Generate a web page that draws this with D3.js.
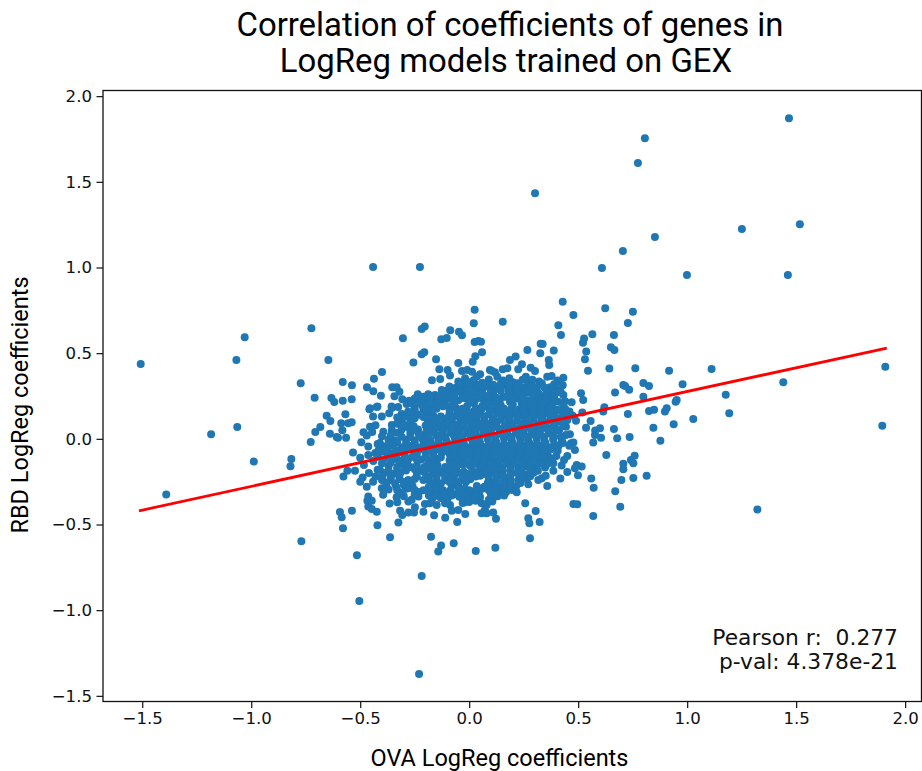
<!DOCTYPE html>
<html>
<head>
<meta charset="utf-8">
<script src="https://cdn.jsdelivr.net/npm/d3@7"></script>
<style>
  html, body { margin: 0; padding: 0; background: #fff; }
  svg { display: block; }
</style>
</head>
<body>
<svg id="chart"></svg>
<script>
// values: [OVA coefficient, RBD coefficient]
const outlierGenes = [
  [1.467,1.871],[0.806,1.755],[0.774,1.61],[0.302,1.434],[1.517,1.252],[1.251,1.224],[0.852,1.178],[0.705,1.096],
  [0.609,0.997],[0.999,0.956],[1.462,0.956],[-0.441,1.003],[-0.226,1.003],[-1.507,0.437],[-1.03,0.593],[-1.068,0.46],
  [-0.724,0.645],[-0.646,0.46],[-0.773,0.324],[-1.064,0.069],[-1.184,0.027],[-0.988,-0.133],[-0.816,-0.117],[-0.82,-0.16],
  [-1.39,-0.325],[-0.77,-0.597],[-0.515,-0.679],[-0.504,-0.946],[-0.218,-0.8],[-0.23,-1.372],[1.322,-0.413],[1.909,0.421],
  [1.895,0.077],[1.441,0.33],[1.112,0.408],[0.917,0.398],[0.979,0.319],[1.177,0.258],[1.193,0.149],[1.028,0.116]
];

const leftGenes = [
  [-0.58,0.332],[-0.538,0.313],[-0.709,0.24],[-0.632,0.239],[-0.619,0.215],[-0.58,0.223],[-0.539,0.231],[-0.654,0.135],
  [-0.637,0.104],[-0.568,0.143],[-0.587,0.091],[-0.555,0.091],[-0.539,0.097],[-0.683,0.069],[-0.706,0.04],[-0.639,0.03],
  [-0.608,0.011],[-0.602,0.007],[-0.582,0.05],[-0.565,0.007],[-0.727,-0.018],[-0.533,-0.08],[-0.577,-0.22],[-0.524,-0.186],
  [-0.559,-0.186],[-0.489,-0.226],[-0.483,-0.152],[-0.593,-0.427],[-0.585,-0.457],[-0.538,-0.419],[-0.579,-0.522],[-0.424,-0.425],
  [-0.463,-0.395],[-0.447,-0.409],[-0.467,-0.362],[-0.447,-0.362],[-0.463,-0.337],[-0.421,-0.504],[-0.363,-0.574],[-0.325,-0.489],
  [-0.365,-0.378],[-0.333,-0.341],[-0.401,-0.288],[-0.395,-0.327],[-0.441,-0.25],[-0.458,0.173],[-0.424,0.186],[-0.401,0.13],
  [-0.441,0.13],[-0.367,0.15],[-0.355,0.18],[-0.326,0.186],[-0.485,0.038],[-0.455,0.071],[-0.463,-0.045],[-0.463,-0.094],
  [-0.431,-0.082],[-0.401,-0.075],[-0.394,0.042],[-0.355,0.081],[-0.469,0.301],[-0.44,0.278],[-0.405,0.252],[-0.353,0.301],
  [-0.333,0.301],[-0.32,0.275],[-0.343,0.248],[-0.307,0.231],[-0.276,0.223],[-0.287,0.204],[-0.455,0.178],[-0.421,0.188],
  [-0.356,0.188],[-0.4,0.39],[-0.437,0.351],[-0.495,-0.02],[-0.47,0.02],[-0.5,-0.11],[-0.44,-0.13],[-0.42,-0.18],
  [-0.46,-0.2],[-0.43,-0.22],[-0.4,-0.24],[-0.47,-0.28],[-0.5,-0.25],[-0.445,0.04],[-0.43,0.08],[-0.42,-0.03]
];

const topGenes = [
  [0.025,0.754],[0.021,0.674],[-0.204,0.655],[-0.218,0.641],[-0.087,0.634],[-0.047,0.625],[-0.033,0.604],[-0.304,0.587],
  [-0.128,0.581],[-0.103,0.589],[0.025,0.565],[0.042,0.571],[0.054,0.567],[0.059,0.505],[0.028,0.482],[0.016,0.45],
  [-0.206,0.505],[-0.218,0.493],[-0.152,0.464],[-0.256,0.445],[-0.05,0.443],[-0.137,0.406],[-0.099,0.402],[-0.088,0.369],
  [-0.171,0.342],[-0.133,0.349],[-0.033,0.396],[-0.009,0.402],[0.013,0.392],[0.034,0.363],[0.05,0.377],[0.095,0.402],
  [0.118,0.389],[-0.019,0.354],[-0.05,0.334],[-0.091,0.305],[-0.126,0.285],[-0.236,0.26],[-0.23,0.227],[-0.188,0.26],
  [-0.195,0.204],[-0.157,0.256],[-0.065,0.266],[0.429,0.8],[0.154,0.684],[0.478,0.723],[0.409,0.663],[0.421,0.606],
  [0.624,0.762],[0.751,0.742],[0.728,0.676],[0.565,0.61],[0.664,0.606],[0.527,0.585],[0.522,0.561],[0.65,0.534],
  [0.666,0.519],[0.537,0.509],[0.531,0.464],[0.545,0.398],[0.643,0.41],[0.762,0.412],[0.328,0.555],[0.337,0.554],
  [0.326,0.499],[0.267,0.519],[0.388,0.515],[0.213,0.48],[0.187,0.46],[0.365,0.46],[0.367,0.431],[0.242,0.435],
  [0.225,0.406],[0.282,0.415],[0.302,0.396],[0.154,0.406],[0.175,0.412],[0.103,0.398],[0.129,0.363],[0.184,0.354],
  [0.164,0.314],[0.26,0.363],[0.271,0.324],[0.287,0.31],[0.222,0.324],[0.32,0.334],[0.333,0.324],[0.358,0.363],
  [0.378,0.367],[0.432,0.357],[0.409,0.334],[0.429,0.313],[0.371,0.301],[0.386,0.301],[0.294,0.258],[0.348,0.252],
  [0.378,0.26],[0.432,0.256],[0.513,0.266],[0.523,0.227],[0.47,0.214],[0.248,0.266],[0.202,0.266],[0.187,0.217],
  [0.156,0.246],[0.241,0.208],[0.31,0.204],[0.356,0.208],[0.409,0.217]
];

const rightGenes = [
  [0.669,0.27],[0.707,0.314],[0.715,0.309],[0.734,0.287],[0.799,0.326],[0.825,0.309],[0.799,0.246],[0.62,0.184],
  [0.519,0.153],[0.615,0.159],[0.728,0.145],[0.825,0.163],[0.848,0.17],[0.906,0.178],[0.898,0.159],[0.952,0.227],
  [0.947,0.217],[0.938,0.085],[0.845,0.065],[0.877,-0.011],[0.557,0.104],[0.536,0.064],[0.6,0.062],[0.578,0.048],
  [0.577,0.023],[0.605,0.007],[0.664,0.058],[0.679,0.004],[0.736,0.011],[0.569,-0.022],[0.629,-0.094],[0.759,-0.098],
  [0.742,-0.123],[0.753,-0.142],[0.707,-0.146],[0.707,-0.177],[0.814,-0.216],[0.753,-0.228],[0.698,-0.24],[0.56,-0.232],
  [0.571,-0.285],[0.67,-0.306],[0.693,-0.396],[0.569,-0.45],[0.478,-0.38],[0.496,-0.382],[0.305,-0.421],[0.257,-0.376],
  [0.271,-0.463],[0.276,-0.492],[0.323,-0.485],[0.279,-0.58],[0.118,-0.337],[0.11,-0.43],[0.123,-0.467],[0.218,-0.312],
  [0.271,-0.265],[0.358,-0.275],[0.418,-0.232],[0.45,-0.193],[0.499,-0.212],[0.493,-0.152],[0.516,-0.162],[0.485,-0.172],
  [0.386,-0.142],[0.386,-0.186],[0.424,-0.156],[0.435,-0.123],[0.45,-0.1],[0.348,-0.168],[0.317,-0.24],[0.333,-0.23],
  [0.351,-0.216],[0.225,-0.24],[0.183,-0.226],[0.467,-0.026],[0.478,-0.022],[0.459,-0.041],[0.485,-0.065],[0.406,-0.069],
  [0.462,0.027],[0.444,0.023],[0.444,0.071],[0.413,0.052],[0.386,0.11]
];

const bottomGenes = [
  [-0.317,-0.419],[-0.307,-0.444],[-0.279,-0.43],[-0.249,-0.399],[-0.253,-0.43],[-0.21,-0.425],[-0.203,-0.38],[-0.18,-0.376],
  [-0.149,-0.386],[-0.161,-0.446],[-0.11,-0.461],[-0.055,-0.485],[-0.111,-0.376],[-0.088,-0.386],[-0.08,-0.419],[-0.05,-0.415],
  [-0.018,-0.438],[-0.279,-0.366],[0.057,-0.376],[0.08,-0.386],[0.106,-0.366],[0.072,-0.415],[0.057,-0.434],[0.08,-0.434],
  [-0.175,-0.572],[-0.129,-0.623],[-0.142,-0.658],[-0.071,-0.609],[0.03,-0.654],[0.12,-0.635],[-0.279,-0.288],[-0.264,-0.356],
  [-0.233,-0.337],[-0.02,-0.37]
];

// the dense middle of the cloud, one line per rough row, leaving the white pockets open
const coreGenes = [
  [-0.01,0.335],[0.02,0.342],[0.06,0.328],[0.09,0.346],[0.155,0.34],[0.2,0.33],[0.245,0.345],[0.29,0.345],[0.405,0.34],
  [-0.06,0.3],[-0.02,0.296],[0.02,0.305],[0.055,0.298],[0.09,0.302],[0.125,0.295],[0.2,0.292],[0.245,0.3],[0.3,0.29],[0.345,0.3],[0.415,0.29],
  [-0.12,0.262],[-0.09,0.252],[-0.03,0.26],[0.0,0.255],[0.04,0.264],[0.075,0.25],[0.11,0.262],[0.145,0.28],[0.185,0.262],[0.27,0.27],[0.32,0.262],[0.4,0.27],
  [-0.25,0.235],[-0.2,0.24],[-0.16,0.225],[-0.12,0.218],[-0.085,0.232],[-0.05,0.225],[-0.01,0.232],[0.025,0.22],[0.065,0.228],[0.105,0.222],[0.14,0.215],[0.22,0.235],[0.27,0.225],[0.33,0.23],[0.38,0.228],[0.44,0.22],
  [-0.25,0.185],[-0.215,0.195],[-0.175,0.185],[-0.09,0.186],[-0.01,0.19],[0.085,0.185],[0.12,0.18],[0.195,0.18],[0.23,0.172],[0.27,0.185],[0.31,0.175],[0.35,0.18],[0.39,0.172],[0.44,0.175],
  [-0.31,0.145],[-0.27,0.15],[-0.235,0.14],[-0.195,0.152],[-0.165,0.135],[-0.09,0.148],[-0.055,0.15],[-0.02,0.14],[0.015,0.152],[0.05,0.145],[0.09,0.142],[0.13,0.15],[0.165,0.14],[0.2,0.148],[0.24,0.136],[0.275,0.15],[0.315,0.14],[0.355,0.148],[0.39,0.142],[0.43,0.15],[0.475,0.135],
  [-0.31,0.105],[-0.27,0.11],[-0.19,0.108],[-0.15,0.102],[-0.115,0.115],[-0.08,0.105],[-0.04,0.11],[-0.005,0.1],[0.03,0.112],[0.07,0.105],[0.105,0.1],[0.145,0.112],[0.18,0.102],[0.22,0.108],[0.255,0.1],[0.295,0.112],[0.33,0.102],[0.37,0.108],[0.41,0.1],[0.45,0.11],[0.49,0.105],
  [-0.29,0.07],[-0.18,0.07],[-0.14,0.065],[-0.1,0.072],[-0.065,0.062],[-0.03,0.07],[0.01,0.062],[0.045,0.072],[0.08,0.064],[0.12,0.07],[0.155,0.062],[0.195,0.072],[0.23,0.064],[0.27,0.07],[0.305,0.062],[0.345,0.07],[0.38,0.064],
  [-0.33,0.035],[-0.27,0.03],[-0.235,0.04],[-0.2,0.03],[-0.165,0.036],[-0.125,0.028],[-0.085,0.036],[-0.05,0.026],[-0.01,0.034],[0.025,0.028],[0.065,0.036],[0.1,0.026],[0.14,0.034],[0.175,0.028],[0.215,0.036],[0.25,0.028],[0.29,0.034],[0.325,0.026],[0.365,0.032],
  [-0.37,-0.005],[-0.34,-0.01],[-0.29,-0.005],[-0.25,-0.01],[-0.215,0.0],[-0.18,-0.008],[-0.14,-0.002],[-0.105,-0.01],[-0.065,-0.002],[-0.03,-0.008],[0.01,0.0],[0.045,-0.01],[0.085,-0.002],[0.12,-0.008],[0.16,0.0],[0.195,-0.01],[0.235,-0.002],[0.27,-0.008],[0.31,0.0],[0.345,-0.01],[0.385,-0.002],[0.425,-0.01],
  [-0.39,-0.045],[-0.35,-0.04],[-0.31,-0.05],[-0.27,-0.042],[-0.23,-0.05],[-0.195,-0.04],[-0.16,-0.048],[-0.12,-0.04],[-0.085,-0.05],[-0.045,-0.042],[-0.01,-0.05],[0.03,-0.04],[0.065,-0.048],[0.105,-0.04],[0.14,-0.05],[0.18,-0.042],[0.215,-0.05],[0.255,-0.04],[0.29,-0.048],[0.33,-0.04],[0.365,-0.05],[0.41,-0.04],
  [-0.36,-0.085],[-0.32,-0.08],[-0.24,-0.085],[-0.2,-0.078],[-0.165,-0.088],[-0.125,-0.08],[-0.09,-0.088],[-0.05,-0.08],[-0.015,-0.088],[0.025,-0.08],[0.06,-0.09],[0.1,-0.08],[0.135,-0.088],[0.175,-0.08],[0.21,-0.09],[0.25,-0.08],[0.285,-0.088],[0.325,-0.08],[0.36,-0.09],[0.4,-0.1],
  [-0.395,-0.125],[-0.345,-0.118],[-0.31,-0.128],[-0.22,-0.12],[-0.18,-0.128],[-0.145,-0.118],[-0.09,-0.125],[-0.06,-0.12],[-0.025,-0.128],[0.015,-0.12],[0.05,-0.128],[0.09,-0.118],[0.125,-0.128],[0.165,-0.12],[0.2,-0.128],[0.24,-0.12],[0.275,-0.128],[0.315,-0.118],[0.35,-0.128],
  [-0.37,-0.16],[-0.33,-0.165],[-0.295,-0.16],[-0.17,-0.165],[-0.08,-0.16],[-0.06,-0.17],[0.005,-0.158],[0.08,-0.165],[0.115,-0.158],[0.15,-0.168],[0.19,-0.16],[0.225,-0.168],[0.265,-0.16],[0.3,-0.168],
  [-0.39,-0.2],[-0.35,-0.205],[-0.315,-0.195],[-0.24,-0.2],[-0.205,-0.195],[-0.165,-0.205],[-0.125,-0.198],[-0.09,-0.205],[-0.05,-0.198],[-0.01,-0.205],[0.03,-0.198],[0.065,-0.205],[0.105,-0.198],[0.14,-0.208],[0.22,-0.2],[0.26,-0.208],[0.295,-0.198],
  [-0.36,-0.24],[-0.32,-0.235],[-0.185,-0.24],[-0.15,-0.235],[-0.11,-0.242],[-0.07,-0.235],[-0.035,-0.242],[0.005,-0.236],[0.09,-0.24],[0.125,-0.236],[0.16,-0.245],[0.265,-0.235],
  [-0.38,-0.27],[-0.335,-0.28],[-0.3,-0.27],[-0.26,-0.275],[-0.185,-0.28],[-0.16,-0.27],[-0.08,-0.275],[-0.05,-0.28],[0.035,-0.275],[0.07,-0.28],[0.105,-0.272],[0.14,-0.282],[0.18,-0.274],[0.215,-0.278],
  [-0.31,-0.315],[-0.165,-0.31],[-0.135,-0.32],[-0.095,-0.315],[-0.06,-0.322],[-0.025,-0.314],[0.015,-0.32],[0.045,-0.315],[0.135,-0.318],[0.17,-0.31],
  [-0.17,-0.35],[-0.13,-0.345],[-0.1,-0.352],[-0.03,-0.35],[0.01,-0.345],[0.05,-0.34],[0.09,-0.355]
];

// second pass over the middle, between the rows above
const fillGenes = [
  [-0.04,0.318],[0.0,0.322],[0.04,0.314],[0.075,0.32],[0.11,0.316],[0.145,0.322],[0.18,0.312],[0.225,0.32],[0.27,0.29],[0.31,0.3],[0.39,0.318],
  [-0.1,0.28],[-0.07,0.286],[-0.04,0.276],[-0.01,0.284],[0.025,0.278],[0.06,0.282],[0.1,0.276],[0.18,0.284],[0.22,0.278],[0.26,0.285],[0.31,0.28],[0.355,0.275],[0.42,0.272],
  [-0.21,0.246],[-0.175,0.24],[-0.14,0.248],[-0.105,0.24],[-0.07,0.246],[-0.03,0.238],[0.01,0.246],[0.045,0.24],[0.085,0.248],[0.125,0.24],[0.165,0.246],[0.2,0.238],[0.245,0.248],[0.3,0.24],[0.35,0.236],[0.39,0.246],
  [-0.26,0.205],[-0.225,0.21],[-0.19,0.2],[-0.15,0.21],[-0.11,0.2],[-0.07,0.208],[0.005,0.21],[0.09,0.208],[0.12,0.2],[0.2,0.2],[0.25,0.21],[0.29,0.2],[0.335,0.208],[0.38,0.2],[0.43,0.205],
  [-0.25,0.165],[-0.21,0.17],[-0.18,0.16],[-0.09,0.168],[-0.05,0.162],[-0.015,0.168],[0.02,0.16],[0.055,0.17],[0.1,0.162],[0.14,0.166],[0.18,0.16],[0.215,0.155],[0.25,0.165],[0.29,0.158],[0.33,0.166],[0.37,0.16],[0.41,0.168],[0.46,0.16],
  [-0.33,0.125],[-0.29,0.13],[-0.25,0.12],[-0.21,0.128],[-0.175,0.12],[-0.13,0.13],[-0.1,0.122],[-0.07,0.13],[-0.035,0.12],[0.0,0.128],[0.035,0.122],[0.07,0.13],[0.11,0.12],[0.15,0.128],[0.185,0.122],[0.22,0.13],[0.26,0.12],[0.295,0.128],[0.335,0.122],[0.375,0.13],[0.41,0.12],[0.45,0.126],
  [-0.33,0.088],[-0.3,0.082],[-0.27,0.09],[-0.17,0.088],[-0.13,0.084],[-0.095,0.09],[-0.06,0.082],[-0.025,0.09],[0.015,0.082],[0.05,0.088],[0.09,0.084],[0.125,0.09],[0.165,0.082],[0.2,0.088],[0.24,0.084],[0.275,0.09],[0.315,0.082],[0.35,0.088],[0.39,0.082],[0.43,0.09],
  [-0.355,0.05],[-0.31,0.055],[-0.27,0.048],[-0.235,0.055],[-0.195,0.048],[-0.16,0.054],[-0.12,0.046],[-0.08,0.054],[-0.045,0.048],[-0.01,0.054],[0.03,0.046],[0.065,0.054],[0.1,0.048],[0.14,0.052],[0.175,0.046],[0.21,0.054],[0.25,0.048],[0.285,0.052],[0.325,0.046],[0.36,0.054],[0.4,0.05],
  [-0.4,0.015],[-0.36,0.02],[-0.31,0.012],[-0.27,0.01],[-0.23,0.018],[-0.19,0.012],[-0.15,0.018],[-0.11,0.01],[-0.07,0.018],[-0.03,0.012],[0.005,0.02],[0.045,0.01],[0.08,0.018],[0.12,0.012],[0.155,0.018],[0.195,0.01],[0.23,0.018],[0.27,0.012],[0.305,0.018],[0.345,0.01],[0.385,0.018],[0.42,0.012],
  [-0.41,-0.025],[-0.37,-0.03],[-0.33,-0.022],[-0.29,-0.03],[-0.25,-0.024],[-0.21,-0.03],[-0.175,-0.022],[-0.14,-0.03],[-0.1,-0.024],[-0.065,-0.03],[-0.025,-0.022],[0.015,-0.03],[0.05,-0.024],[0.09,-0.03],[0.125,-0.022],[0.16,-0.03],[0.2,-0.024],[0.235,-0.03],[0.275,-0.022],[0.31,-0.03],[0.35,-0.024],[0.39,-0.03],[0.43,-0.025],
  [-0.415,-0.065],[-0.375,-0.06],[-0.335,-0.068],[-0.29,-0.062],[-0.255,-0.068],[-0.22,-0.06],[-0.18,-0.068],[-0.145,-0.062],[-0.105,-0.068],[-0.07,-0.06],[-0.03,-0.068],[0.005,-0.062],[0.045,-0.068],[0.08,-0.06],[0.12,-0.068],[0.155,-0.062],[0.195,-0.068],[0.23,-0.06],[0.27,-0.068],[0.305,-0.062],[0.345,-0.068],[0.38,-0.06],
  [-0.42,-0.105],[-0.375,-0.1],[-0.335,-0.108],[-0.295,-0.1],[-0.2,-0.108],[-0.165,-0.1],[-0.13,-0.108],[-0.075,-0.1],[-0.04,-0.108],[0.0,-0.1],[0.035,-0.108],[0.075,-0.1],[0.11,-0.108],[0.15,-0.1],[0.185,-0.108],[0.225,-0.1],[0.26,-0.108],[0.3,-0.1],[0.34,-0.108],[0.38,-0.115],
  [-0.4,-0.142],[-0.36,-0.138],[-0.32,-0.146],[-0.285,-0.14],[-0.165,-0.145],[-0.085,-0.142],[-0.05,-0.138],[-0.01,-0.146],[0.08,-0.14],[0.1,-0.146],[0.135,-0.14],[0.17,-0.146],[0.21,-0.14],[0.245,-0.146],[0.285,-0.14],[0.32,-0.146],[0.36,-0.145],
  [-0.41,-0.18],[-0.37,-0.185],[-0.33,-0.178],[-0.29,-0.185],[-0.25,-0.178],[-0.215,-0.185],[-0.175,-0.178],[-0.14,-0.185],[-0.1,-0.18],[-0.065,-0.186],[-0.025,-0.192],[0.015,-0.186],[0.05,-0.18],[0.085,-0.186],[0.12,-0.18],[0.155,-0.186],[0.19,-0.18],[0.24,-0.185],[0.28,-0.178],[0.315,-0.186],
  [-0.4,-0.22],[-0.36,-0.224],[-0.32,-0.216],[-0.24,-0.222],[-0.19,-0.222],[-0.15,-0.216],[-0.11,-0.224],[-0.07,-0.216],[-0.03,-0.224],[0.01,-0.218],[0.09,-0.222],[0.125,-0.216],[0.245,-0.222],[0.28,-0.218],
  [-0.38,-0.255],[-0.34,-0.26],[-0.3,-0.252],[-0.27,-0.258],[-0.17,-0.255],[-0.13,-0.26],[-0.09,-0.252],[-0.05,-0.258],[-0.015,-0.252],[0.085,-0.258],[0.12,-0.252],[0.155,-0.26],[0.19,-0.252],[0.235,-0.258],
  [-0.37,-0.295],[-0.33,-0.3],[-0.29,-0.292],[-0.25,-0.298],[-0.18,-0.3],[-0.15,-0.292],[-0.085,-0.298],[-0.045,-0.292],[0.03,-0.298],[0.06,-0.292],[0.12,-0.298],[0.16,-0.292],[0.195,-0.298],
  [-0.3,-0.335],[-0.15,-0.332],[-0.115,-0.338],[-0.08,-0.33],[-0.045,-0.338],[-0.01,-0.332],[0.03,-0.338],[0.13,-0.335],[0.16,-0.33],
  [-0.33,-0.37],[-0.03,-0.375],[0.0,-0.368],[0.03,-0.362]
];

// spots that still looked thin against the reference
const patchGenes = [
  [-0.255,0.075],[-0.2,0.078],[-0.28,-0.12],[-0.26,-0.105],[-0.24,-0.122],[-0.27,-0.165],[-0.24,-0.155],[-0.205,-0.165],
  [-0.19,-0.15],[-0.145,-0.155],[-0.11,-0.165],[-0.03,-0.15],[0.03,-0.145],[0.05,-0.16],[-0.28,-0.24],[-0.25,-0.235],
  [-0.21,-0.24],[0.03,-0.22],[0.04,-0.2],[0.05,-0.215],[0.19,-0.24],[0.155,-0.215],[0.19,-0.21],[-0.21,-0.3],
  [-0.12,-0.3],[-0.02,-0.29],[0.0,-0.3],[0.09,-0.3],[-0.25,-0.325],[-0.23,-0.31],[-0.185,-0.33],[0.1,-0.325],
  [-0.12,0.19],[-0.15,0.175],[-0.06,0.18],[-0.03,0.175],[0.03,0.18],[0.06,0.19],[0.145,0.195],[0.16,0.175],[-0.28,0.16]
];

const genes = [...outlierGenes, ...leftGenes, ...topGenes, ...rightGenes, ...bottomGenes, ...coreGenes, ...fillGenes, ...patchGenes];

// fitted line, end points only
const fitOva = [-1.515, 1.916];
const fitRbd = [-0.42, 0.53];

const xTicks = [-1.5, -1.0, -0.5, 0.0, 0.5, 1.0, 1.5, 2.0];
const yTicks = [-1.5, -1.0, -0.5, 0.0, 0.5, 1.0, 1.5, 2.0];
const titleLines = ["Correlation of coefficients of genes in", "LogReg models trained on GEX"];
const statLines = ["Pearson r:  0.277", "p-val: 4.378e-21"];

const fullWidth = 922;
const fullHeight = 771;
const margin = { top: 90.5, right: 0.5, bottom: 69.5, left: 103 };
const width = fullWidth - margin.left - margin.right;
const height = fullHeight - margin.top - margin.bottom;

const svg = d3.select("#chart")
  .attr("width", fullWidth)
  .attr("height", fullHeight);

const g = svg.append("g")
  .attr("transform", `translate(${margin.left},${margin.top})`);

const xScale = d3.scaleLinear().domain([-1.68, 2.075]).range([0, width]);
const yScale = d3.scaleLinear().domain([-1.533, 2.033]).range([height, 0]);

g.selectAll(".gene")
  .data(genes)
  .enter().append("circle")
  .attr("class", "gene")
  .attr("cx", d => xScale(d[0]))
  .attr("cy", d => yScale(d[1]))
  .attr("r", 4)
  .attr("fill", "#1f77b4");

g.append("path")
  .datum(fitOva.map((v, i) => [v, fitRbd[i]]))
  .attr("fill", "none")
  .attr("stroke", "#ff0000")
  .attr("stroke-width", 2.8)
  .attr("d", d3.line().x(d => xScale(d[0])).y(d => yScale(d[1])));

const xAxis = g.append("g")
  .attr("transform", `translate(0,${height})`)
  .call(d3.axisBottom(xScale).tickValues(xTicks).tickFormat(d3.format(".1f")).tickSizeOuter(0).tickSize(6.5).tickPadding(4.5));

const yAxis = g.append("g")
  .call(d3.axisLeft(yScale).tickValues(yTicks).tickFormat(d3.format(".1f")).tickSizeOuter(0).tickSize(6.5).tickPadding(4.5));

[xAxis, yAxis].forEach(axis => {
  axis.select(".domain").remove();
  axis.selectAll(".tick line").attr("stroke", "#111").attr("stroke-width", 1.2);
  axis.selectAll("text")
    .attr("fill", "#111")
    .style("font-family", "'DejaVu Sans'")
    .style("font-size", "16.6px");
});

// frame drawn last so it sits over the marks
g.append("rect")
  .attr("width", width)
  .attr("height", height)
  .attr("fill", "none")
  .attr("stroke", "#111")
  .attr("stroke-width", 1.3);

// second title line sits a little left of the first in the reference
svg.append("g").selectAll("text")
  .data(titleLines)
  .enter().append("text")
  .attr("x", (d, i) => 510 - i * 4)
  .attr("y", (d, i) => 36 + i * 36.3)
  .attr("text-anchor", "middle")
  .attr("fill", "#000")
  .style("font-family", "Roboto")
  .style("font-size", "32.9px")
  .text(d => d);

svg.append("text")
  .attr("x", 499.5)
  .attr("y", 765.5)
  .attr("text-anchor", "middle")
  .attr("fill", "#000")
  .style("font-family", "Roboto")
  .style("font-size", "23.5px")
  .text("OVA LogReg coefficients");

svg.append("text")
  .attr("transform", "translate(28,405) rotate(-90)")
  .attr("text-anchor", "middle")
  .attr("fill", "#000")
  .style("font-family", "Roboto")
  .style("font-size", "23.5px")
  .text("RBD LogReg coefficients");

svg.append("g").selectAll("text")
  .data(statLines)
  .enter().append("text")
  .attr("x", 898)
  .attr("y", (d, i) => 645 + i * 24)
  .attr("text-anchor", "end")
  .attr("fill", "#111")
  .style("font-family", "'DejaVu Sans'")
  .style("font-size", "21.8px")
  .style("white-space", "pre")
  .text(d => d);
</script>
</body>
</html>
